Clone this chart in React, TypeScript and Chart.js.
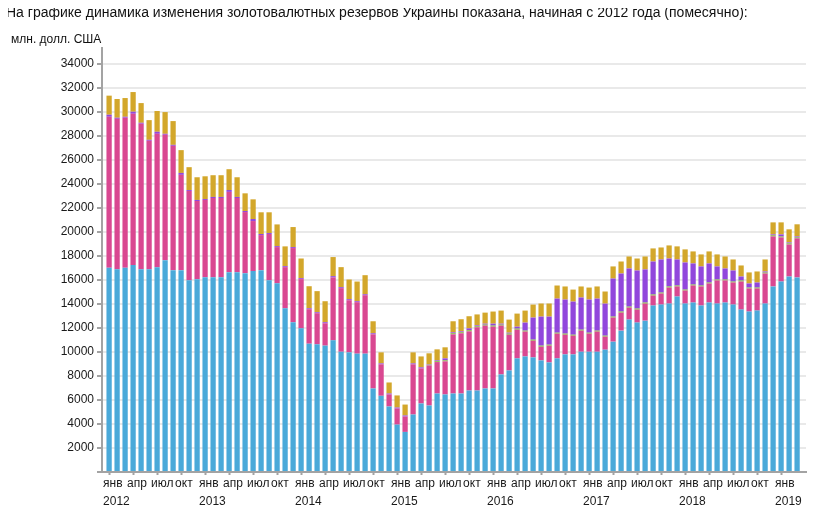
import { useEffect, useRef } from "react";
import { Chart, registerables } from "chart.js";

Chart.register(...registerables);

// Monthly values, Jan 2012 – Mar 2019, mln USD (bottom to top)
const MONTHS = ["янв", "фев", "мар", "апр", "май", "июн", "июл", "авг", "сен", "окт", "ноя", "дек"];
const FIRST_YEAR = 2012;

const BLUE = [
  17010, 16900, 17010, 17240, 16900, 16900, 17070, 17650, 16820, 16820, 15980, 16070,
  16230, 16230, 16230, 16650, 16650, 16570, 16740, 16820, 15980, 15730, 13640, 12480,
  11970, 10690, 10640, 10530, 10970, 10020, 9970, 9860, 9860, 6960, 6350, 5460,
  3950, 3340, 4790, 5710, 5540, 6540, 6460, 6540, 6540, 6790, 6790, 6960,
  6960, 8130, 8460, 9470, 9630, 9550, 9300, 9130, 9470, 9800, 9800, 10020,
  10020, 10020, 10190, 10860, 11780, 12700, 12450, 12610, 13870, 13950, 14030, 14620,
  14030, 14120, 13870, 14120, 14030, 14120, 13950, 13530, 13370, 13450, 14030, 15460,
  15870, 16290, 16210,
];

const PINK = [
  12590, 12530, 12510, 12610, 12120, 10700, 11110, 10450, 10360, 7940, 7440, 6510,
  6440, 6600, 6600, 6690, 6180, 5090, 4170, 2920, 3850, 3010, 3430, 6180,
  4100, 2870, 2590, 1860, 5240, 5300, 4340, 4290, 4870, 4510, 2620, 1000,
  1340, 1280, 4180, 2920, 3340, 2620, 2760, 4930, 5020, 4930, 5270, 5240,
  5150, 4070, 2980, 2390, 2070, 1390, 1140, 1400, 2060, 1640, 1560, 1760,
  1510, 1680, 1090, 2010, 1500, 1000, 1080, 1420, 830, 920, 1340, 840,
  1090, 1420, 1590, 1590, 1930, 1840, 1840, 2340, 1920, 1840, 2510, 4170,
  3680, 2670, 3260,
];

const GREEN = [
  0, 0, 0, 0, 0, 0, 0, 0, 0, 0, 0, 0,
  0, 0, 0, 0, 0, 0, 0, 0, 0, 0, 0, 0,
  0, 0, 0, 0, 0, 0, 0, 0, 0, 0, 0, 0,
  0, 0, 0, 0, 50, 70, 80, 90, 80, 90, 80, 80,
  90, 80, 90, 90, 80, 90, 90, 80, 80, 90, 80, 80,
  80, 80, 80, 80, 90, 80, 90, 90, 90, 80, 90, 80,
  80, 80, 80, 80, 80, 80, 80, 90, 80, 80, 80, 90,
  80, 90, 80,
];

const PURPLE = [
  170, 90, 80, 170, 80, 80, 170, 80, 80, 160, 80, 90,
  80, 90, 90, 160, 90, 90, 170, 90, 80, 80, 80, 80,
  80, 80, 80, 90, 110, 80, 90, 80, 80, 90, 80, 80,
  80, 90, 80, 90, 40, 70, 170, 80, 80, 160, 80, 80,
  160, 80, 80, 160, 670, 1840, 2420, 2340, 2840, 2840, 2760, 2680,
  2760, 2670, 2670, 3170, 3170, 3180, 3170, 2760, 2750, 2760, 2330, 2170,
  2260, 1760, 1590, 1590, 1090, 920, 920, 330, 340, 420, 90, 80,
  170, 80, 80,
];

const GOLD = [
  1590, 1560, 1560, 1640, 1640, 1640, 1730, 1810, 1980, 1900, 1900, 1890,
  1890, 1810, 1810, 1730, 1640, 1470, 1640, 1810, 1730, 1810, 1650, 1670,
  1640, 1840, 1760, 1750, 1590, 1670, 1640, 1640, 1590, 1000, 920, 920,
  1010, 910, 920, 910, 920, 920, 920, 920, 1010, 1010, 910, 920,
  1010, 1090, 1090, 1090, 1000, 1080, 1090, 1090, 1090, 1090, 1000, 920,
  1000, 1010, 1010, 1010, 1000, 1000, 1000, 1080, 1090, 1000, 1090, 1090,
  1090, 1000, 1000, 1000, 1000, 1000, 920, 920, 920, 920, 1000, 1000,
  1000, 1090, 1010,
];

const Y_TICKS = [0, 2000, 4000, 6000, 8000, 10000, 12000, 14000, 16000, 18000, 20000, 22000, 24000, 26000, 28000, 30000, 32000, 34000];
// every third month gets a tick (янв, апр, июл, окт)
const X_TICKS = BLUE.map((_, i) => i).filter(i => i % 3 === 0);

const FONT = 'Arial, "Liberation Sans", sans-serif';
const AXIS = "#a3a3a3";
const GRID = "#e9e9e9";
const TEXT = "#1a1a1a";

const SERIES = [
  { label: "ряд 1", data: BLUE, color: "#4aa9d9" },
  { label: "ряд 2", data: PINK, color: "#d94891" },
  { label: "ряд 3", data: GREEN, color: "#7cc12e" },
  { label: "ряд 4", data: PURPLE, color: "#9147dc" },
  { label: "ряд 5", data: GOLD, color: "#d3a72b" },
];

function ReservesChart() {
  const canvasRef = useRef<HTMLCanvasElement>(null);

  useEffect(() => {
    if (!canvasRef.current) return;
    const ctx = canvasRef.current.getContext("2d");
    if (!ctx) return;

    const chart = new Chart(ctx, {
      type: "bar",
      data: {
        datasets: SERIES.map(s => ({
          label: s.label,
          data: s.data.map((y, x) => ({ x, y })),
          backgroundColor: s.color,
          borderWidth: 0,
          categoryPercentage: 1,
          barPercentage: 0.66,
        })),
      },
      options: {
        animation: false,
        responsive: true,
        maintainAspectRatio: false,
        layout: { padding: { top: 48, right: 31, bottom: 0, left: 0 } },
        plugins: {
          legend: { display: false },
          tooltip: { mode: "index", intersect: false },
        },
        scales: {
          x: {
            type: "linear",
            stacked: true,
            min: -0.8875,
            max: 87.1125,
            bounds: "data",
            offset: false,
            z: 1,
            afterBuildTicks: (scale: any) => {
              scale.ticks = X_TICKS.map(v => ({ value: v }));
            },
            afterFit: (scale: any) => {
              scale.height = 45;
            },
            grid: {
              display: true,
              offset: false,
              drawOnChartArea: false,
              drawTicks: true,
              tickLength: 3,
              tickWidth: 2,
              tickColor: AXIS,
            },
            border: { display: true, color: AXIS, width: 2 },
            ticks: {
              autoSkip: false,
              maxRotation: 0,
              minRotation: 0,
              align: "start",
              labelOffset: -6,
              padding: 0,
              color: TEXT,
              font: { family: FONT, size: 12, lineHeight: 1.5 },
              callback: (value: any) => {
                const i = Number(value);
                const m = MONTHS[i % 12];
                return i % 12 === 0 ? [m, String(FIRST_YEAR + i / 12)] : m;
              },
            },
          },
          y: {
            type: "linear",
            stacked: true,
            min: 0,
            max: 35330,
            bounds: "data",
            afterBuildTicks: (scale: any) => {
              scale.ticks = Y_TICKS.map(v => ({ value: v }));
            },
            afterFit: (scale: any) => {
              scale.width = 102;
            },
            grid: {
              color: GRID,
              lineWidth: 2,
              drawTicks: true,
              tickLength: 5,
              tickWidth: 2,
              tickColor: AXIS,
            },
            border: { display: true, color: AXIS, width: 2 },
            ticks: {
              padding: 3,
              color: TEXT,
              font: { family: FONT, size: 12 },
              callback: (value: any) => (Number(value) === 0 ? "" : String(value)),
            },
          },
        },
      },
    } as any);

    return () => chart.destroy();
  }, []);

  return (
    <div style={{ position: "absolute", left: 0, top: 0, width: 837, height: 517 }}>
      <canvas ref={canvasRef}></canvas>
    </div>
  );
}

export default function App() {
  // the block cancels the body's 8px margin so the chart sits at the page corner
  return (
    <div style={{ position: "relative", width: 837, height: 517, margin: -8, overflow: "hidden" }}>
      <ReservesChart />
      <div
        style={{
          position: "absolute",
          left: 6,
          top: 4,
          whiteSpace: "nowrap",
          font: `14px/16px ${FONT}`,
          color: "#111",
          pointerEvents: "none",
        }}
      >
        На графике динамика изменения золотовалютных резервов Украины показана, начиная с 2012 года (помесячно):
      </div>
      <div
        style={{
          position: "absolute",
          left: 11,
          top: 32,
          whiteSpace: "nowrap",
          font: `12px/14px ${FONT}`,
          color: "#111",
          pointerEvents: "none",
        }}
      >
        млн. долл. США
      </div>
    </div>
  );
}
